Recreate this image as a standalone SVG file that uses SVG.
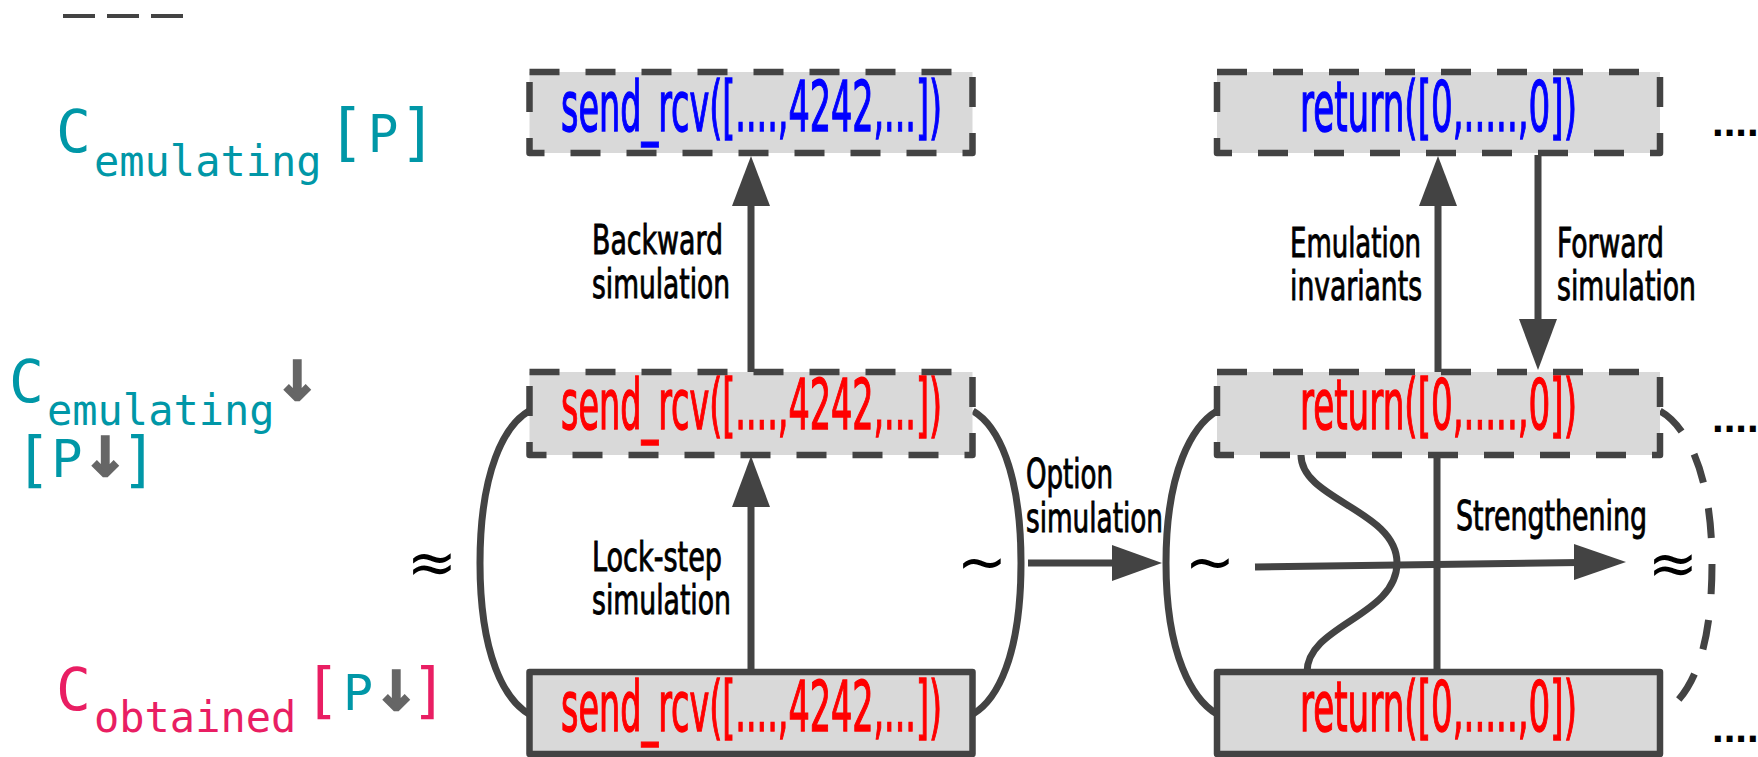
<svg xmlns="http://www.w3.org/2000/svg" width="1758" height="757" viewBox="0 0 1758 757">
  <style>
    .box { fill: #d9d9d9; stroke: #434343; stroke-width: 6.5; stroke-linejoin: round; }
    .dashed { stroke-dasharray: 30 26; }
    .code { font-family: "DejaVu Sans Condensed", "Liberation Sans Narrow", "Liberation Sans", sans-serif; font-size: 70px; stroke-width: 1.4; }
    .blue { fill: #0000ff; stroke: #0000ff; }
    .red { fill: #ff0000; stroke: #ff0000; }
    .lbl { font-family: "DejaVu Sans Condensed", "Liberation Sans Narrow", "Liberation Sans", sans-serif; font-size: 41px; fill: #000; stroke: #000; stroke-width: 0.9; }
    .wire { fill: none; stroke: #434343; stroke-width: 7; }
    .head { fill: #434343; }
    .mono { font-family: "DejaVu Sans Mono", "Liberation Mono", monospace; }
    .teal { fill: #0097a7; }
    .pink { fill: #e91e63; }
    .arr { font-family: "DejaVu Sans", sans-serif; font-weight: bold; fill: #666666; stroke: #666666; stroke-width: 2.5; font-size: 54px; }
    .rel { font-family: "DejaVu Sans", sans-serif; fill: #000; font-size: 60px; }
    .dots { font-family: "Liberation Sans", sans-serif; font-weight: bold; font-size: 42px; fill: #000; }
  </style>

  <!-- legend stroke -->
  <line x1="63" y1="16" x2="183" y2="16" stroke="#434343" stroke-width="4" stroke-dasharray="32 12"/>

  <!-- row titles -->
  <g id="title-emulating">
    <text class="mono teal"><tspan x="56" y="152" font-size="58">C</tspan><tspan x="94" y="176" font-size="42">emulating</tspan><tspan x="346" y="153" font-size="63" text-anchor="middle">[</tspan><tspan x="383" y="152" font-size="51" text-anchor="middle">P</tspan><tspan x="418" y="153" font-size="63" text-anchor="middle">]</tspan></text>
  </g>
  <g id="title-emulating-down">
    <text class="mono teal"><tspan x="9" y="402" font-size="58">C</tspan><tspan x="47" y="425" font-size="42">emulating</tspan><tspan class="arr" x="297" y="400" text-anchor="middle">↓</tspan><tspan x="33" y="480" font-size="61" text-anchor="middle">[</tspan><tspan x="67" y="477" font-size="52" text-anchor="middle">P</tspan><tspan class="arr" x="105" y="476" text-anchor="middle">↓</tspan><tspan x="139" y="480" font-size="61" text-anchor="middle">]</tspan></text>
  </g>
  <g id="title-obtained">
    <text class="mono pink"><tspan x="56" y="710" font-size="58">C</tspan><tspan x="94" y="732" font-size="42">obtained</tspan><tspan x="322" y="711" font-size="61" text-anchor="middle">[</tspan><tspan class="teal" x="358" y="710" font-size="50" text-anchor="middle">P</tspan><tspan class="arr" x="396" y="710" text-anchor="middle">↓</tspan><tspan x="429" y="711" font-size="61" text-anchor="middle">]</tspan></text>
  </g>

  <!-- connectors -->
  <g id="connectors">
    <!-- relation brackets around the send_rcv pair -->
    <path class="wire" d="M529 411 C505 425 480 470 480 563 C480 656 505 700 529 714"/>
    <path class="wire" d="M973 411 C997 425 1021 470 1021 563 C1021 656 997 700 973 714"/>
    <!-- relation brackets around the return pair -->
    <path class="wire" d="M1217 411 C1193 425 1166 470 1166 563 C1166 656 1193 700 1217 714"/>
    <path class="wire dashed" stroke-width="6.5" d="M1660 411 C1685 425 1712 470 1712 563 C1712 656 1690 695 1663 714"/>

    <!-- backward simulation -->
    <path class="wire" d="M751 372 V200"/>
    <polygon class="head" points="751,156 770,206 732,206"/>
    <path class="wire" d="M751 372 V403 M751 432 V438"/>

    <!-- lock-step simulation -->
    <path class="wire" d="M751 672 V500"/>
    <polygon class="head" points="751,456 770,507 732,507"/>

    <!-- option simulation -->
    <path class="wire" d="M1028 563 H1115"/>
    <polygon class="head" points="1162,563 1112,545 1112,581"/>

    <!-- emulation invariants -->
    <path class="wire" d="M1438 372 V200"/>
    <polygon class="head" points="1438,156 1457,206 1419,206"/>

    <!-- forward simulation -->
    <path class="wire" d="M1538 155 V325"/>
    <polygon class="head" points="1538,370 1519,319 1557,319"/>

    <!-- strengthening -->
    <path class="wire" d="M1301 455 C1301 500 1397 510 1397 563 C1397 616 1307 625 1307 672"/>
    <path class="wire" d="M1437 455 V672"/>
    <path class="wire" d="M1255 567 L1580 562.5"/>
    <polygon class="head" points="1626,562 1574,544 1574,580"/>
  </g>

  <!-- relation symbols -->
  <text class="rel" x="432" y="583" text-anchor="middle">≈</text>
  <text class="rel" x="982" y="583" text-anchor="middle">~</text>
  <text class="rel" x="1210" y="583" text-anchor="middle">~</text>
  <text class="rel" x="1673" y="584" text-anchor="middle">≈</text>

  <!-- edge labels -->
  <text class="lbl" x="592" y="254" textLength="131" lengthAdjust="spacingAndGlyphs">Backward</text>
  <text class="lbl" x="592" y="298" textLength="138" lengthAdjust="spacingAndGlyphs">simulation</text>
  <text class="lbl" x="592" y="571" textLength="130" lengthAdjust="spacingAndGlyphs">Lock-step</text>
  <text class="lbl" x="592" y="614" textLength="139" lengthAdjust="spacingAndGlyphs">simulation</text>
  <text class="lbl" x="1026" y="488" textLength="87" lengthAdjust="spacingAndGlyphs">Option</text>
  <text class="lbl" x="1026" y="532" textLength="137" lengthAdjust="spacingAndGlyphs">simulation</text>
  <text class="lbl" x="1290" y="257" textLength="131" lengthAdjust="spacingAndGlyphs">Emulation</text>
  <text class="lbl" x="1290" y="300" textLength="132" lengthAdjust="spacingAndGlyphs">invariants</text>
  <text class="lbl" x="1557" y="257" textLength="107" lengthAdjust="spacingAndGlyphs">Forward</text>
  <text class="lbl" x="1557" y="300" textLength="139" lengthAdjust="spacingAndGlyphs">simulation</text>
  <text class="lbl" x="1456" y="530" textLength="191" lengthAdjust="spacingAndGlyphs">Strengthening</text>

  <!-- nodes: send_rcv column -->
  <g id="send-emulating">
    <rect class="box dashed" x="529.5" y="72" width="443" height="81"/>
    <text class="code blue" transform="translate(561 131) scale(0.53 1)" textLength="719" lengthAdjust="spacingAndGlyphs">send_rcv([....,4242,...])</text>
  </g>
  <g id="send-emulating-down">
    <rect class="box dashed" x="529.5" y="372" width="443" height="83"/>
    <text class="code red" transform="translate(561 429) scale(0.53 1)" textLength="719" lengthAdjust="spacingAndGlyphs">send_rcv([....,4242,...])</text>
  </g>
  <g id="send-obtained">
    <rect class="box" x="529.5" y="672" width="443" height="82" stroke-width="7"/>
    <text class="code red" transform="translate(561 731) scale(0.53 1)" textLength="719" lengthAdjust="spacingAndGlyphs">send_rcv([....,4242,...])</text>
  </g>

  <!-- nodes: return column -->
  <g id="return-emulating">
    <rect class="box dashed" x="1217" y="72" width="443" height="81"/>
    <text class="code blue" transform="translate(1300 131) scale(0.54 1)" textLength="513" lengthAdjust="spacingAndGlyphs">return([0,.....,0])</text>
  </g>
  <g id="return-emulating-down">
    <rect class="box dashed" x="1217" y="372" width="443" height="83"/>
    <text class="code red" transform="translate(1300 429) scale(0.54 1)" textLength="513" lengthAdjust="spacingAndGlyphs">return([0,.....,0])</text>
  </g>
  <g id="return-obtained">
    <rect class="box" x="1217" y="672" width="443" height="82" stroke-width="7"/>
    <text class="code red" transform="translate(1300 731) scale(0.54 1)" textLength="513" lengthAdjust="spacingAndGlyphs">return([0,.....,0])</text>
  </g>

  <!-- continuation marks -->
  <text class="dots" x="1712" y="136">....</text>
  <text class="dots" x="1712" y="432">....</text>
  <text class="dots" x="1712" y="742">....</text>
</svg>
